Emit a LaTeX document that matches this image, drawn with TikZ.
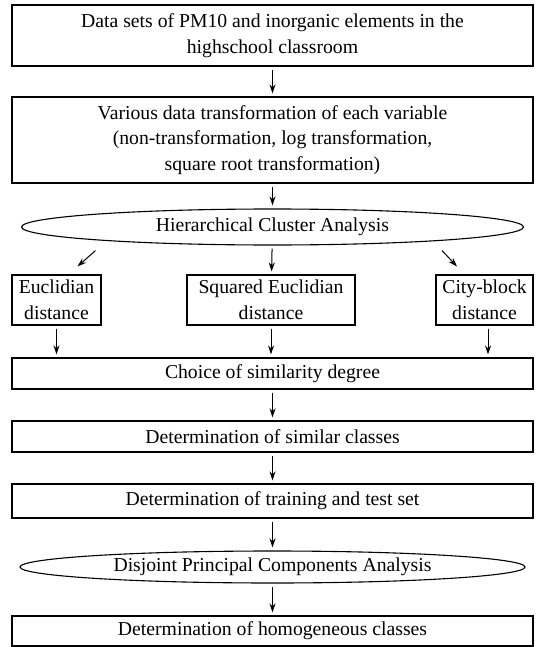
\documentclass[tikz,border=0pt]{standalone}
\usepackage{fontspec}
\setmainfont{Liberation Serif}
\usetikzlibrary{shapes,arrows.meta,positioning,calc}
\tikzstyle{block} = [draw, rectangle, line width=1.1pt, align=center, inner sep=2pt, text=black]
\tikzstyle{row} = [block, minimum width=521pt]
\tikzstyle{oval} = [draw, ellipse, line width=1.1pt, inner sep=0pt, align=center, text=black]
\tikzstyle{arr} = [draw, line width=1pt, ->, shorten <=3pt, shorten >=3pt]

\begin{document}
\begin{tikzpicture}[node distance=2cm, >={Stealth[length=9pt,width=6pt]},
    font=\fontsize{19.7}{25.5}\selectfont]
    \useasboundingbox (0,0) rectangle (536pt,-647pt);
    \node [row, minimum height=61pt] at (272.5pt,-35.5pt) (data)
        {Data sets of PM10 and inorganic elements in the\\highschool classroom};
    \node [row, minimum height=86pt, below of=data, node distance=104.5pt] (trans)
        {Various data transformation of each variable\\(non-transformation, log transformation,\\square root transformation)};
    \node [oval, minimum width=502pt, minimum height=36pt, below of=trans, node distance=87pt] (hca)
        {Hierarchical Cluster Analysis};

    % distance measures
    \node [block, minimum width=168pt, minimum height=50pt, below of=hca, node distance=73pt, xshift=-1.5pt] (sqeu)
        {Squared Euclidian\\distance};
    \node [block, minimum width=89pt, minimum height=50pt, left of=sqeu, node distance=214.5pt] (eucl)
        {Euclidian\\distance};
    \node [block, minimum width=97pt, minimum height=50pt, right of=sqeu, node distance=213.5pt] (city)
        {City-block\\distance};

    \node [row, minimum height=31pt, below of=hca, node distance=146.5pt] (choice) {Choice of similarity degree};
    \node [row, minimum height=31pt, below of=choice, node distance=63pt] (simil) {Determination of similar classes};
    \node [row, minimum height=34pt, below of=simil, node distance=64.5pt] (train) {Determination of training and test set};
    \node [oval, minimum width=505pt, minimum height=32pt, below of=train, node distance=66pt] (dpca)
        {Disjoint Principal Components Analysis};
    \node [row, minimum height=30pt, below of=dpca, node distance=64pt] (homog) {Determination of homogeneous classes};

    \draw [arr] (data) -- (trans);
    \draw [arr] (trans) -- (hca);
    \draw [arr] (hca) -- (sqeu);
    \draw [->, line width=1pt] ([shift={(-177pt,-5pt)}]hca.south) -- ([shift={(21pt,8pt)}]eucl.north);
    \draw [->, line width=1pt] ([shift={(169.5pt,-5pt)}]hca.south) -- ([shift={(-27.5pt,8pt)}]city.north);
    \draw [arr] (eucl.south) -- (eucl.south |- choice.north);
    \draw [arr] (sqeu.south) -- (sqeu.south |- choice.north);
    \draw [arr] ([xshift=3.5pt]city.south) -- ([xshift=3.5pt]city.south |- choice.north);
    \draw [arr] (choice) -- (simil);
    \draw [arr] (simil) -- (train);
    \draw [arr] (train) -- (dpca);
    \draw [arr] (dpca) -- (homog);
\end{tikzpicture}
\end{document}
